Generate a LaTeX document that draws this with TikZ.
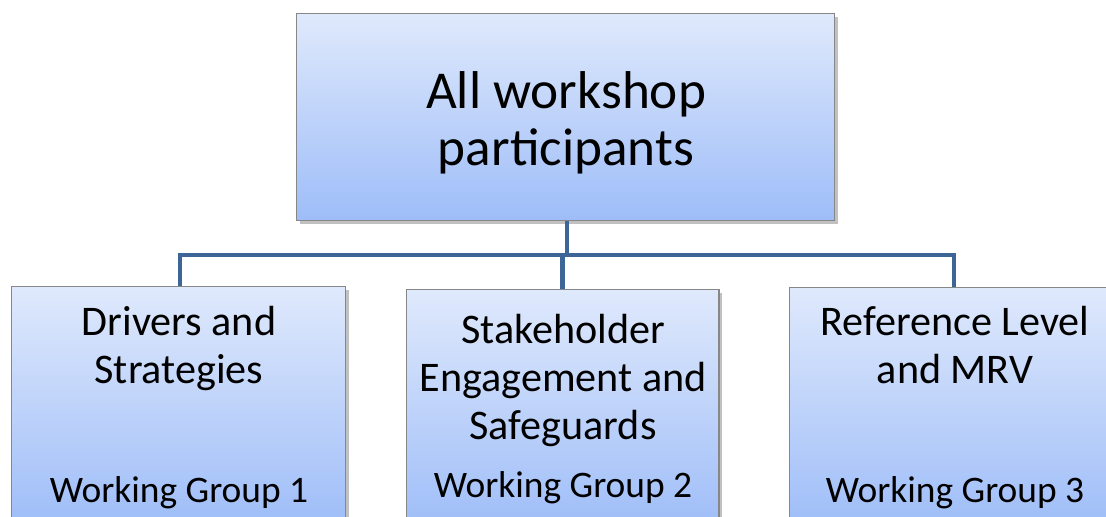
\documentclass[tikz,border=0pt]{standalone}
\usepackage{fontspec}
\setmainfont{Carlito}
\usepackage{tikz}
\usetikzlibrary{positioning}
\usetikzlibrary{shadows}
\definecolor{boxtop}{RGB}{223,233,252}
\definecolor{boxbot}{RGB}{158,189,248}
\definecolor{linkblue}{RGB}{62,101,152}
\definecolor{rim}{RGB}{135,135,135}

\begin{document}
\begin{tikzpicture}[x=0.02cm, y=-0.02cm,
    box/.style = {draw=rim, line width=0.6pt, rectangle, anchor=north,
      top color=boxtop, bottom color=boxbot,
      drop shadow={shadow xshift=0.7mm, shadow yshift=-0.7mm, opacity=0.35, fill=black!70}},
    head/.style = {align=center, anchor=north, inner sep=0pt, font=\fontsize{24}{27.2}\selectfont},
    group/.style = {anchor=base, inner sep=0pt, font=\fontsize{21.3}{24}\selectfont},
    link/.style = {draw=linkblue, line width=2.8pt}
    ]
    \useasboundingbox (0,0) rectangle (1106,517);
    \clip (0,0) rectangle (1106,517);

    \node[box, minimum width=10.78cm, minimum height=4.14cm] (all) at (565.5,13) {};
    \node[align=center, anchor=north, inner sep=0pt, font=\fontsize{30.3}{32.6}\selectfont] (allt) at (566,71) {All workshop\\participants};

    \node[box, minimum width=6.7cm, minimum height=4.8cm] (wg1) at (178.5,286) {};
    \node[box, minimum width=6.26cm, minimum height=4.8cm] (wg2) at (562.5,289) {};
    \node[box, minimum width=6.6cm, minimum height=4.8cm] (wg3) at (954,287) {};

    \node[head] (h1) at (179,306) {Drivers and\\Strategies};
    \node[head] (h2) at (563,314) {Stakeholder\\Engagement and\\Safeguards};
    \node[head] (h3) at (955,306) {Reference Level\\and MRV};

    \node[group] (g1) at (179,502) {Working Group 1};
    \node[group] (g2) at (563,497) {Working Group 2};
    \node[group] (g3) at (955,502) {Working Group 3};

    \coordinate (hub) at (567,255);
    \draw[link] (all.south -| hub) -- (hub);
    \draw[link] (hub) -| (wg1.north -| 180,0);
    \draw[link] (hub) -| (wg3.north);
    \draw[link] (hub) -| (wg2.north);
\end{tikzpicture}
\end{document}
